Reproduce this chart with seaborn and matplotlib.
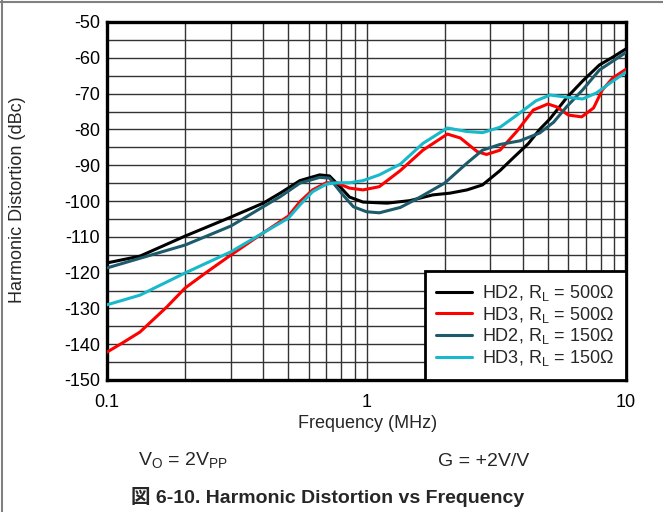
import numpy as np
import pandas as pd
import seaborn as sns
import matplotlib
matplotlib.use("Agg")
import matplotlib.pyplot as plt
from matplotlib.lines import Line2D
from matplotlib.ticker import LogLocator, NullFormatter, FixedLocator, MultipleLocator

# ------------------------------------------------------------
# Data (frequency in MHz, distortion in dBc)
# ------------------------------------------------------------
freq_hd2_500 = [0.1, 0.134, 0.2, 0.3, 0.4, 0.465, 0.554, 0.66, 0.72, 0.79, 0.86, 0.97,
                1.2, 1.47, 1.8, 2.1, 2.44, 2.8, 3.27, 3.67, 4.2, 4.65, 5.1, 5.9, 6.8,
                7.9, 8.9, 10]
hd2_500 = [-117.3, -115.4, -109.8, -104.5, -100.6, -97.8, -94.3, -92.7, -93.0, -96.0,
           -98.9, -100.3, -100.6, -99.9, -98.3, -97.8, -96.9, -95.5, -91.5, -88.0,
           -84.0, -80.0, -77.0, -71.2, -66.5, -62.0, -59.8, -57.5]

freq_hd3_500 = [0.1, 0.115, 0.134, 0.17, 0.2, 0.243, 0.3, 0.4, 0.5, 0.554, 0.62, 0.7,
                0.77, 0.86, 0.97, 1.12, 1.35, 1.65, 2.05, 2.3, 2.67, 2.9, 3.27, 3.8,
                4.39, 5.0, 5.4, 6.0, 6.75, 7.5, 8.1, 8.9, 10]
hd3_500 = [-142.2, -139.6, -136.6, -129.6, -124.3, -119.8, -115.1, -108.9, -104.2,
           -100.2, -96.9, -94.9, -95.0, -96.4, -96.9, -96.0, -91.5, -85.8, -81.3,
           -82.4, -86.2, -87.0, -85.8, -80.5, -74.6, -72.9, -73.7, -76.0, -76.5,
           -74.0, -69.0, -65.6, -63.2]

freq_hd2_150 = [0.1, 0.2, 0.3, 0.4, 0.465, 0.554, 0.66, 0.72, 0.8, 0.89, 1.0, 1.12,
                1.35, 1.6, 2.0, 2.44, 2.8, 3.27, 3.9, 4.65, 5.26, 5.9, 6.8, 7.9, 10]
hd2_150 = [-118.7, -112.3, -107.0, -101.6, -98.8, -95.0, -93.4, -93.6, -97.8, -101.6,
           -103.0, -103.3, -101.8, -99.0, -95.0, -89.4, -85.8, -84.2, -83.2, -81.0,
           -78.0, -73.7, -69.0, -63.4, -58.5]

freq_hd3_150 = [0.1, 0.134, 0.2, 0.3, 0.4, 0.5, 0.554, 0.62, 0.7, 0.77, 0.86, 0.97,
                1.12, 1.35, 1.65, 2.05, 2.44, 2.8, 3.27, 3.8, 4.5, 5.1, 5.9, 6.8, 7.7,
                8.7, 10]
hd3_150 = [-129.0, -126.3, -120.1, -114.2, -108.9, -104.8, -101.1, -97.4, -95.3, -94.9,
           -94.9, -94.3, -92.7, -89.7, -83.9, -79.6, -80.6, -80.9, -79.4, -76.0, -72.0,
           -70.4, -71.0, -71.5, -69.8, -67.0, -64.0]

series_labels = [r"HD2, R$_\mathregular{L}$ = 500Ω", r"HD3, R$_\mathregular{L}$ = 500Ω",
                 r"HD2, R$_\mathregular{L}$ = 150Ω", r"HD3, R$_\mathregular{L}$ = 150Ω"]
series_colors = ["#000000", "#ff0000", "#1d5b6b", "#17b9cb"]

x_ticks = [0.1, 1, 10]
x_ticklabels = ["0.1", "1", "10"]
y_ticks = list(range(-150, -40, 10))
y_ticklabels = [str(v) for v in y_ticks]

# ------------------------------------------------------------
# Long table for seaborn
# ------------------------------------------------------------
frames = []
for lab, f, v in zip(series_labels,
                     [freq_hd2_500, freq_hd3_500, freq_hd2_150, freq_hd3_150],
                     [hd2_500, hd3_500, hd2_150, hd3_150]):
    frames.append(pd.DataFrame({"freq": f, "db": v, "series": lab}))
df = pd.concat(frames, ignore_index=True)

# ------------------------------------------------------------
# Plot
# ------------------------------------------------------------
sns.set_style("white")
plt.rcParams["font.family"] = ["Liberation Sans", "Noto Sans CJK JP"]
plt.rcParams["mathtext.fontset"] = "custom"
plt.rcParams["mathtext.rm"] = "Liberation Sans"

FS = 13

fig = plt.figure(figsize=(6.63, 5.12), dpi=100)
ax = fig.add_axes([107 / 663, 1 - 380 / 512, 519 / 663, 358 / 512])

sns.lineplot(data=df, x="freq", y="db", hue="series", hue_order=series_labels,
             palette=series_colors, sort=False, estimator=None, linewidth=2.2,
             ax=ax, zorder=3)

ax.set_xscale("log")
ax.set_xlim(0.1, 10)
ax.set_ylim(-150, -50)

ax.xaxis.set_major_locator(FixedLocator(x_ticks))
ax.set_xticklabels(x_ticklabels)
ax.xaxis.set_minor_locator(LogLocator(base=10, subs=np.arange(2, 10)))
ax.xaxis.set_minor_formatter(NullFormatter())
ax.set_yticks(y_ticks)
ax.set_yticklabels(y_ticklabels)
ax.yaxis.set_minor_locator(MultipleLocator(5))

ax.grid(which="both", color="#333333", linewidth=1.0)
ax.tick_params(which="both", length=0, labelsize=FS, colors="black")
ax.tick_params(axis="x", pad=10)
ax.tick_params(axis="y", pad=5)

for sp in ax.spines.values():
    sp.set_color("black")
    sp.set_linewidth(2.4)

ax.set_xlabel("")
ax.set_ylabel("")
fig.text(368 / 663, 1 - 424 / 512, "Frequency (MHz)", ha="center", va="center", fontsize=FS)
fig.text(18 / 663, 1 - 200 / 512, "Harmonic Distortion (dBc)", ha="center", va="center",
         rotation=90, fontsize=FS)

leg = ax.legend(loc="lower right", borderaxespad=0, fancybox=False, framealpha=1,
                edgecolor="black", fontsize=FS, handlelength=2.0, handletextpad=0.55,
                labelspacing=0.1, borderpad=0.65)
leg.get_frame().set_linewidth(2.0)
for h in leg.get_lines():
    h.set_linewidth(2.2)

fig.text(183 / 663, 1 - 461 / 512, r"V$_\mathregular{O}$ = 2V$_\mathregular{PP}$",
         ha="center", va="center", fontsize=14)
fig.text(484 / 663, 1 - 461 / 512, "G = +2V/V", ha="center", va="center", fontsize=14)
fig.text(328 / 663, 1 - 497 / 512, "図 6-10. Harmonic Distortion vs Frequency",
         ha="center", va="center", fontsize=14, fontweight="bold")

# page frame (top and left)
fig.add_artist(Line2D([0.0, 1.0], [1 - 2 / 512, 1 - 2 / 512], transform=fig.transFigure,
                      color="#808080", linewidth=1.5))
fig.add_artist(Line2D([1.5 / 663, 1.5 / 663], [0.0, 1.0], transform=fig.transFigure,
                      color="#808080", linewidth=1.5))

fig.savefig("out.png", dpi=100)
